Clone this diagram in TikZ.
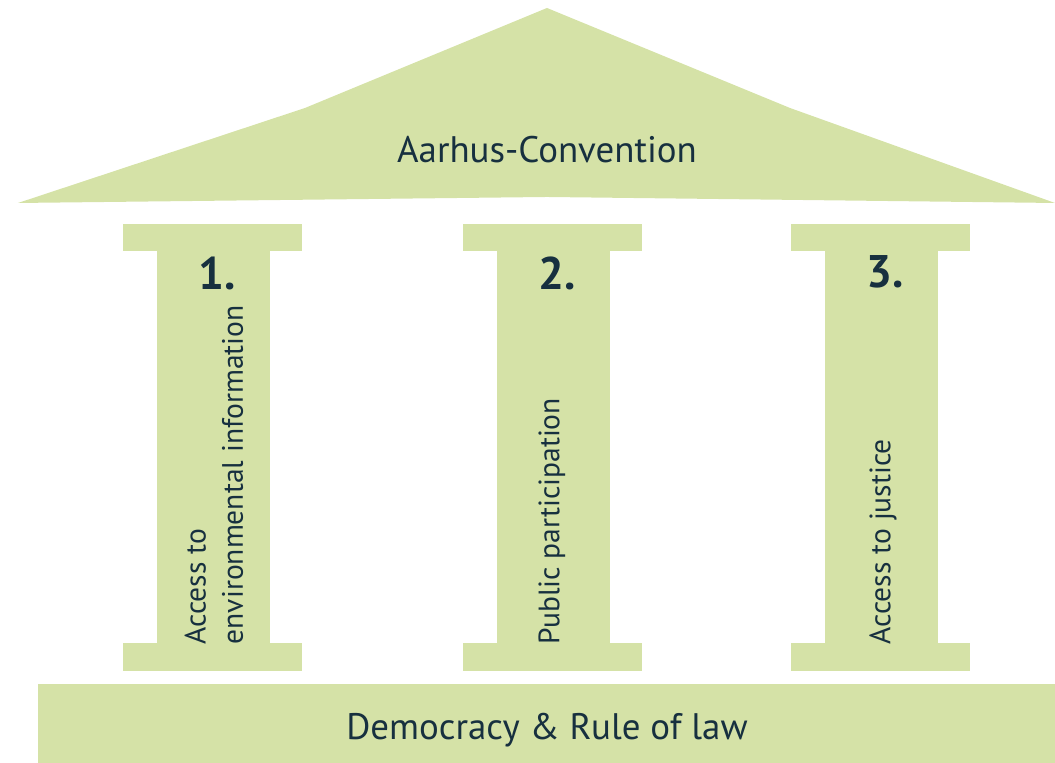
\documentclass[tikz,border=0pt]{standalone}
\usepackage{fontspec}
\setmainfont{PT Sans}
\usepackage{tikz}
\usetikzlibrary{positioning}

\definecolor{leaf}{HTML}{D5E2A7}
\definecolor{ink}{HTML}{17303F}

\tikzset{
  label/.style={text=ink,inner sep=0pt,font=\fontsize{10.5}{12}\selectfont},
  num/.style={text=ink,inner sep=0pt,font=\fontsize{13}{15}\selectfont\bfseries,anchor=base},
  side/.style={text=ink,inner sep=0pt,font=\fontsize{8.4}{10.6}\selectfont,rotate=90,anchor=west,align=left}
}

\begin{document}
\begin{tikzpicture}
  \useasboundingbox (0,0) rectangle (10.55,7.63);
  % roof
  \fill[leaf] (0.18,5.60)--(3.05,6.55)--(5.47,7.55)--(7.90,6.55)--(10.55,5.60)--(5.47,5.66)--cycle;
  % base
  \fill[leaf] (0.38,0)rectangle(10.55,0.79);
  % pillars
  \foreach \x in {1.23,4.63,7.91}{
    \fill[leaf] (\x,5.12)rectangle++(1.79,0.27);
    \fill[leaf] (\x+0.34,1.20)rectangle++(1.13,3.92);
    \fill[leaf] (\x,0.92)rectangle++(1.79,0.28);
  }
  \node[label,anchor=base] (conv) at (5.47,6.00){Aarhus-Convention};
  \node[label,anchor=base] (law) at (5.47,0.23){Democracy \& Rule of law};
  \node[num] (one) at (2.17,4.73){1.};
  \node[num] (two) at (5.57,4.73){2.};
  \node[num] (three) at (8.85,4.75){3.};
  \node[side] (info) at (2.14,1.18){Access to\\environmental information};
  \node[side] (part) at (5.52,1.18){Public participation};
  \node[side] (just) at (8.83,1.18){Access to justice};
\end{tikzpicture}
\end{document}
